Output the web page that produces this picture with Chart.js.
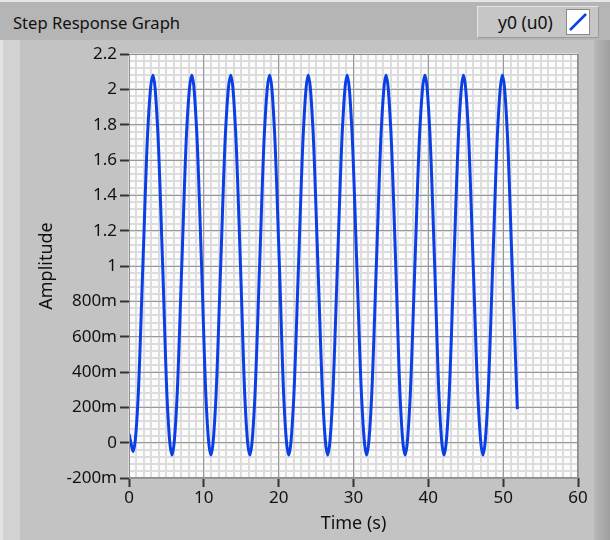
<!DOCTYPE html>
<html>
<head>
<meta charset="utf-8">
<script src="https://cdn.jsdelivr.net/npm/chart.js@4.4.1/dist/chart.umd.min.js"></script>
<style>
  html, body { margin: 0; padding: 0; background: #c4c4c4; }
  #frame { position: relative; width: 610px; height: 540px; overflow: hidden; background: #c3c3c3; font-family: "Noto Sans", "Open Sans", sans-serif; }
  #topbar { position: absolute; left: 0; top: 0; width: 610px; height: 40px; background: #b5b5b5; border-top: 2px solid #e6e6e6; box-sizing: border-box; }
  #title { position: absolute; left: 13px; top: 11px; font-size: 16.6px; color: #111111; white-space: nowrap; }
  #legend { position: absolute; left: 477px; top: 6px; width: 122px; height: 32px; background: #c6c6c6; border-top: 1px solid #e4e4e4; border-left: 1px solid #e4e4e4; border-right: 1px solid #9a9a9a; border-bottom: 1px solid #9a9a9a; box-sizing: border-box; }
  #legtext { position: absolute; left: 20px; top: 3px; font-size: 17.5px; color: #111111; white-space: nowrap; }
  #legicon { position: absolute; left: 88px; top: 2px; width: 24px; height: 26px; background: #ffffff; border: 1px solid #8a8a8a; box-sizing: border-box; }
  #leftstrip { position: absolute; left: 0; top: 40px; width: 20px; height: 500px; background: #d2d2d2; border-left: 3px solid #e2e2e2; box-sizing: border-box; }
  #rightstrip { position: absolute; left: 594px; top: 40px; width: 16px; height: 500px; background: linear-gradient(to right, #b8b8b8, #9e9e9e); }
  #chart { position: absolute; left: 0; top: 0; }
</style>
</head>
<body>
<div id="frame">
  <div id="topbar"></div>
  <div id="title">Step Response Graph</div>
  <div id="legend">
    <div id="legtext">y0 (u0)</div>
    <div id="legicon"><svg width="22" height="24"><line x1="3" y1="20" x2="19" y2="4" stroke="#0a3fe6" stroke-width="2.5"/></svg></div>
  </div>
  <div id="leftstrip"></div>
  <div id="rightstrip"></div>
  <canvas id="chart" width="610" height="540"></canvas>
</div>
<script>
// ---- data ----
const timeValues = [0, 0.25, 0.55, 1.2, 1.85, 2.5, 3.2, 3.85, 4.5, 5.1,
  5.75, 6.4, 7.05, 7.7, 8.4, 9.05, 9.7, 10.3,
  10.95, 11.6, 12.25, 12.9, 13.6, 14.25, 14.9, 15.5,
  16.15, 16.8, 17.45, 18.1, 18.8, 19.45, 20.1, 20.7,
  21.35, 22.0, 22.65, 23.3, 23.95, 24.6, 25.25, 25.9,
  26.55, 27.2, 27.85, 28.5, 29.15, 29.8, 30.45, 31.1,
  31.75, 32.4, 33.05, 33.7, 34.35, 35.0, 35.65, 36.25,
  36.9, 37.55, 38.2, 38.85, 39.55, 40.2, 40.85, 41.45,
  42.1, 42.75, 43.4, 44.05, 44.7, 45.35, 46.0, 46.65,
  47.3, 47.95, 48.6, 49.25, 49.9, 50.55, 51.2, 51.9];
const amplitudeValues = [0.05, 0.0, -0.05, 0.24, 1.0, 1.76, 2.08, 1.76, 1.0, 0.24,
  -0.07, 0.24, 1.0, 1.76, 2.08, 1.76, 1.0, 0.24,
  -0.07, 0.24, 1.0, 1.76, 2.08, 1.76, 1.0, 0.24,
  -0.07, 0.24, 1.0, 1.76, 2.08, 1.76, 1.0, 0.24,
  -0.07, 0.24, 1.0, 1.76, 2.08, 1.76, 1.0, 0.24,
  -0.07, 0.24, 1.0, 1.76, 2.08, 1.76, 1.0, 0.24,
  -0.07, 0.24, 1.0, 1.76, 2.08, 1.76, 1.0, 0.24,
  -0.07, 0.24, 1.0, 1.76, 2.08, 1.76, 1.0, 0.24,
  -0.07, 0.24, 1.0, 1.76, 2.08, 1.76, 1.0, 0.24,
  -0.07, 0.24, 1.0, 1.76, 2.08, 1.76, 1.0, 0.19];
const xTickLabels = ['0', '10', '20', '30', '40', '50', '60'];
const yTickLabels = ['-200m', '0', '200m', '400m', '600m', '800m', '1', '1.2', '1.4', '1.6', '1.8', '2', '2.2'];
const xRange = [0, 60];
const yRange = [-0.2, 2.2];
const seriesName = 'y0 (u0)';

const points = timeValues.map((t, i) => ({ x: t, y: amplitudeValues[i] }));

const plotBg = {
  id: 'plotBg',
  beforeDraw(chart) {
    const { ctx, chartArea: a } = chart;
    ctx.save();
    ctx.fillStyle = '#fcfcfc';
    ctx.fillRect(a.left, a.top, a.right - a.left, a.bottom - a.top);
    ctx.restore();
  },
  afterDraw(chart) {
    const { ctx, chartArea: a } = chart;
    ctx.save();
    ctx.strokeStyle = '#8e8e8e';
    ctx.lineWidth = 1;
    ctx.strokeRect(a.left + 0.5, a.top + 0.5, a.right - a.left - 1, a.bottom - a.top - 1);
    ctx.restore();
  }
};

const tickFont = { family: '"Noto Sans", "Open Sans", sans-serif', size: 17 };
const titleFont = { family: '"Noto Sans", "Open Sans", sans-serif', size: 18 };

new Chart(document.getElementById('chart'), {
  type: 'line',
  data: {
    datasets: [{
      label: seriesName,
      data: points,
      borderColor: '#0a3fe6',
      borderWidth: 3,
      pointRadius: 0,
      fill: false,
      cubicInterpolationMode: 'monotone',
      xAxisID: 'x',
      yAxisID: 'y'
    }]
  },
  options: {
    responsive: false,
    animation: false,
    layout: { padding: { top: 54, right: 32, bottom: 0, left: 0 } },
    plugins: { legend: { display: false }, tooltip: { enabled: false } },
    scales: {
      xMinor: {
        type: 'linear', position: 'bottom', min: xRange[0], max: xRange[1],
        ticks: { display: false, stepSize: 1, maxTicksLimit: 100 },
        grid: { color: '#dddddd', lineWidth: 2, drawTicks: false },
        border: { display: false },
        afterFit: s => { s.height = 0; }
      },
      yMinor: {
        type: 'linear', position: 'left', min: yRange[0], max: yRange[1],
        ticks: { display: false, stepSize: 0.04, maxTicksLimit: 100 },
        grid: { color: '#dddddd', lineWidth: 2, drawTicks: false },
        border: { display: false },
        afterFit: s => { s.width = 0; }
      },
      x: {
        type: 'linear', position: 'bottom', min: xRange[0], max: xRange[1],
        ticks: {
          stepSize: 10, maxTicksLimit: 20, color: '#111111', font: tickFont, padding: 1,
          callback: (v) => xTickLabels[Math.round((v - xRange[0]) / 10)]
        },
        grid: { color: '#999999', lineWidth: 1, tickColor: '#333333', tickLength: 9, tickWidth: 2 },
        border: { display: false },
        title: { display: true, text: 'Time (s)', color: '#111111', font: titleFont, padding: { top: 0, bottom: 5 } },
        afterFit: s => { s.height = 62; }
      },
      y: {
        type: 'linear', position: 'left', min: yRange[0], max: yRange[1],
        ticks: {
          stepSize: 0.2, maxTicksLimit: 20, color: '#111111', font: tickFont, padding: 3,
          callback: (v) => yTickLabels[Math.round((v - yRange[0]) / 0.2)]
        },
        grid: { color: '#999999', lineWidth: 1, tickColor: '#333333', tickLength: 9, tickWidth: 2 },
        border: { display: false },
        title: { display: true, text: 'Amplitude', color: '#111111', font: titleFont, padding: { top: 36, bottom: 0 } },
        afterFit: s => { s.width = 129; }
      }
    }
  },
  plugins: [plotBg]
});
</script>
</body>
</html>
